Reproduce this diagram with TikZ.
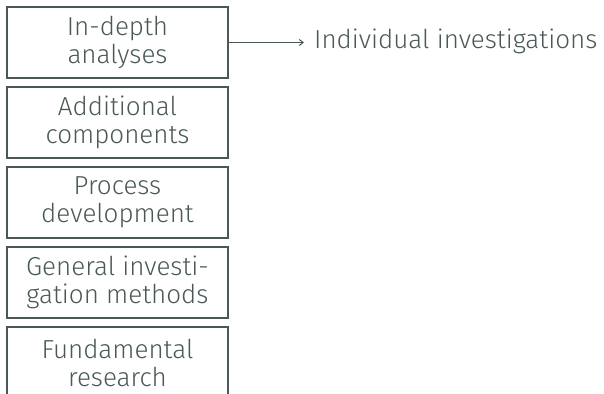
\documentclass[tikz,border=0pt]{standalone}
\usepackage{fontspec}
\setmainfont{Fira Sans}[UprightFont=* Light]
\usetikzlibrary{arrows.meta}
\definecolor{ink}{HTML}{4A5858}
\tikzset{
  stage/.style={draw=ink, line width=1.3pt, minimum width=221pt, minimum height=71pt,
    inner sep=0pt, align=center, text=ink, font=\fontsize{26}{28}\selectfont},
  lbl/.style={text=ink, font=\fontsize{26}{28}\selectfont, anchor=west, inner sep=0pt}
}
\begin{document}
\begin{tikzpicture}[x=1pt,y=-1pt]
\useasboundingbox (0,0) rectangle (604,393);
\node[stage] (a) at (117.5,42.5) {In-depth\\analyses};
\node[stage] (b) at (117.5,122.5) {Additional\\components};
\node[stage] (c) at (117.5,202.5) {Process\\development};
\node[stage] (d) at (117.5,282.5) {General investi-\\gation methods};
\node[stage] (e) at (117.5,362.5) {Fundamental\\research};
\coordinate (tip) at (304,42.5);
\node[lbl] (f) at (314,41.5) {Individual investigations};
\draw[ink, line width=1pt, -{Straight Barb[length=4pt,width=6pt]}] (a.east) -- (tip);
\end{tikzpicture}
\end{document}
